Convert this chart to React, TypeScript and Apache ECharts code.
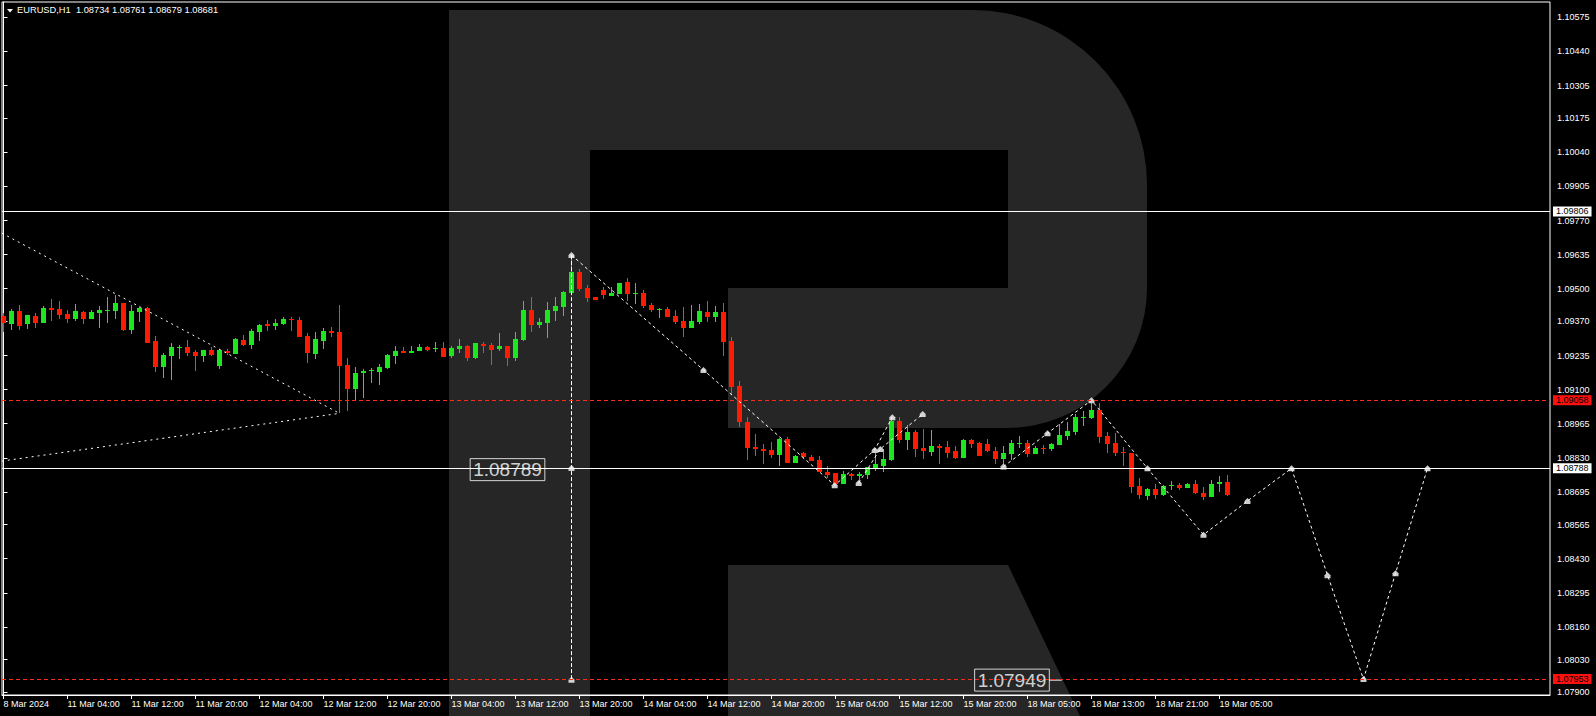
import React, { useEffect, useRef } from "react";
import * as echarts from "echarts";

const FONT = "'Liberation Sans', Arial, sans-serif";
const symbolName = "EURUSD,H1";

// [open, high, low, close] hourly candles
const ohlc: number[][] = [
  [1.09392, 1.09402, 1.09329, 1.09365],
  [1.09361, 1.09421, 1.09336, 1.09411],
  [1.09411, 1.09435, 1.09336, 1.09353],
  [1.09361, 1.09396, 1.09341, 1.09396],
  [1.09392, 1.09405, 1.09345, 1.09365],
  [1.09365, 1.0943, 1.09365, 1.09423],
  [1.09423, 1.09459, 1.09373, 1.09417],
  [1.09419, 1.0945, 1.0938, 1.09397],
  [1.09399, 1.09415, 1.09365, 1.0938],
  [1.09378, 1.09439, 1.09372, 1.09411],
  [1.09407, 1.09411, 1.09361, 1.09381],
  [1.0938, 1.09415, 1.0938, 1.09407],
  [1.09403, 1.0943, 1.09345, 1.09415],
  [1.09413, 1.09467, 1.09365, 1.09417],
  [1.09413, 1.09475, 1.09381, 1.09443],
  [1.09443, 1.09444, 1.09333, 1.09336],
  [1.09336, 1.09435, 1.09321, 1.09411],
  [1.09407, 1.09428, 1.09369, 1.09423],
  [1.09423, 1.09428, 1.09286, 1.09286],
  [1.09293, 1.09312, 1.09171, 1.09191],
  [1.09191, 1.09244, 1.09147, 1.09237],
  [1.09234, 1.09285, 1.09139, 1.09269],
  [1.09265, 1.09277, 1.09221, 1.09269],
  [1.09269, 1.09296, 1.09234, 1.09245],
  [1.09249, 1.09257, 1.09175, 1.09234],
  [1.09234, 1.09258, 1.09211, 1.09257],
  [1.09257, 1.0927, 1.09234, 1.09238],
  [1.09195, 1.09263, 1.09183, 1.09258],
  [1.09253, 1.09263, 1.09238, 1.09244],
  [1.09242, 1.09303, 1.09242, 1.09299],
  [1.09296, 1.09316, 1.09274, 1.09278],
  [1.09278, 1.0934, 1.09262, 1.09332],
  [1.09329, 1.09361, 1.09294, 1.09356],
  [1.09361, 1.09376, 1.09333, 1.09353],
  [1.09352, 1.09381, 1.09336, 1.09365],
  [1.09361, 1.09388, 1.09355, 1.0938],
  [1.0938, 1.09388, 1.09333, 1.09374],
  [1.09376, 1.09388, 1.0931, 1.0931],
  [1.09312, 1.09323, 1.09207, 1.09244],
  [1.09242, 1.09329, 1.09222, 1.093],
  [1.09294, 1.09343, 1.09263, 1.09332],
  [1.09333, 1.09348, 1.0931, 1.09326],
  [1.09328, 1.09435, 1.09006, 1.09195],
  [1.09197, 1.09225, 1.09016, 1.09101],
  [1.09104, 1.09189, 1.09059, 1.09166],
  [1.09164, 1.09181, 1.09068, 1.09175],
  [1.09172, 1.09185, 1.09125, 1.09176],
  [1.09169, 1.09201, 1.09119, 1.09189],
  [1.09185, 1.09241, 1.0918, 1.09237],
  [1.09233, 1.09273, 1.09201, 1.09253],
  [1.09253, 1.09267, 1.09244, 1.09246],
  [1.09246, 1.09273, 1.09244, 1.09253],
  [1.09254, 1.09281, 1.09254, 1.09269],
  [1.09269, 1.09273, 1.09254, 1.09259],
  [1.09261, 1.09287, 1.0925, 1.09265],
  [1.09265, 1.09289, 1.09228, 1.0923],
  [1.09234, 1.09271, 1.09226, 1.09265],
  [1.09261, 1.093, 1.09244, 1.09273],
  [1.09271, 1.09275, 1.09215, 1.09226],
  [1.09226, 1.09285, 1.09222, 1.09285],
  [1.09282, 1.09287, 1.09246, 1.09273],
  [1.09277, 1.09286, 1.09199, 1.09257],
  [1.09261, 1.09324, 1.09254, 1.09273],
  [1.09273, 1.09274, 1.09193, 1.09226],
  [1.09226, 1.09328, 1.09215, 1.093],
  [1.09296, 1.09451, 1.09294, 1.09415],
  [1.09415, 1.09466, 1.09329, 1.09357],
  [1.09357, 1.09382, 1.09345, 1.09368],
  [1.09365, 1.09446, 1.09306, 1.09415],
  [1.09411, 1.09467, 1.09372, 1.09433],
  [1.09428, 1.09491, 1.09393, 1.09487],
  [1.09481, 1.09625, 1.09478, 1.09566],
  [1.09566, 1.09578, 1.09492, 1.09497],
  [1.09501, 1.09514, 1.09448, 1.09463],
  [1.09467, 1.09468, 1.09455, 1.09456],
  [1.09494, 1.09508, 1.09459, 1.09476],
  [1.09472, 1.09505, 1.09472, 1.09484],
  [1.09479, 1.09522, 1.09479, 1.09522],
  [1.09526, 1.09541, 1.09451, 1.09479],
  [1.09479, 1.09522, 1.09438, 1.09484],
  [1.09483, 1.09493, 1.09425, 1.09432],
  [1.09435, 1.09442, 1.09406, 1.09415],
  [1.09417, 1.09422, 1.09385, 1.09421],
  [1.09419, 1.09427, 1.09386, 1.09389],
  [1.09391, 1.09415, 1.09361, 1.09368],
  [1.09372, 1.09427, 1.09308, 1.09345],
  [1.09345, 1.09435, 1.09345, 1.09372],
  [1.09368, 1.09439, 1.09362, 1.09411],
  [1.09407, 1.09451, 1.09369, 1.09388],
  [1.09388, 1.09431, 1.09368, 1.09407],
  [1.09407, 1.09444, 1.09234, 1.0929],
  [1.09292, 1.09308, 1.09078, 1.09112],
  [1.09114, 1.09134, 1.08953, 1.08973],
  [1.08972, 1.0899, 1.08821, 1.0887],
  [1.08871, 1.08924, 1.08837, 1.08865],
  [1.08865, 1.08884, 1.08805, 1.08858],
  [1.08861, 1.08891, 1.08829, 1.08841],
  [1.08841, 1.08908, 1.08797, 1.08904],
  [1.08904, 1.08911, 1.08809, 1.0881],
  [1.0881, 1.08841, 1.08809, 1.08837],
  [1.08847, 1.08851, 1.08825, 1.08834],
  [1.08835, 1.08842, 1.08818, 1.08818],
  [1.08821, 1.08837, 1.08773, 1.08775],
  [1.08773, 1.08797, 1.08748, 1.08763],
  [1.08768, 1.08768, 1.08726, 1.08728],
  [1.08726, 1.08777, 1.08726, 1.08765],
  [1.08765, 1.08771, 1.08742, 1.08759],
  [1.08759, 1.08773, 1.08735, 1.08764],
  [1.08761, 1.08792, 1.08746, 1.08792],
  [1.08788, 1.08847, 1.08779, 1.08805],
  [1.08797, 1.08865, 1.08773, 1.08825],
  [1.08821, 1.08982, 1.08818, 1.08976],
  [1.08976, 1.0899, 1.08887, 1.089],
  [1.089, 1.0896, 1.08862, 1.08933],
  [1.08933, 1.08942, 1.08834, 1.08866],
  [1.08868, 1.08944, 1.08825, 1.08858],
  [1.08853, 1.0894, 1.08837, 1.08876],
  [1.08875, 1.08884, 1.08805, 1.0887],
  [1.08872, 1.08896, 1.0883, 1.08849],
  [1.08857, 1.08876, 1.08826, 1.0883],
  [1.0883, 1.08903, 1.0883, 1.089],
  [1.08899, 1.08905, 1.08868, 1.08886],
  [1.08887, 1.08894, 1.08838, 1.08838],
  [1.08883, 1.08903, 1.08854, 1.08858],
  [1.08857, 1.08871, 1.08805, 1.08826],
  [1.08825, 1.08876, 1.08805, 1.08847],
  [1.08845, 1.089, 1.08821, 1.08888],
  [1.08884, 1.08916, 1.08867, 1.0889],
  [1.08888, 1.089, 1.08834, 1.08846],
  [1.08846, 1.08876, 1.08846, 1.08868],
  [1.08868, 1.0888, 1.08846, 1.08865],
  [1.08865, 1.0889, 1.08858, 1.08884],
  [1.0888, 1.08962, 1.0888, 1.0892],
  [1.08916, 1.08972, 1.089, 1.08936],
  [1.08932, 1.09002, 1.0892, 1.08991],
  [1.08989, 1.09015, 1.08956, 1.08993],
  [1.08989, 1.09046, 1.08982, 1.09019],
  [1.09019, 1.09048, 1.0889, 1.08913],
  [1.08916, 1.08931, 1.0885, 1.08886],
  [1.08888, 1.08927, 1.08838, 1.0885],
  [1.08853, 1.08871, 1.08797, 1.08847],
  [1.08847, 1.08847, 1.08689, 1.08715],
  [1.08718, 1.08748, 1.08665, 1.08682],
  [1.08678, 1.08709, 1.08662, 1.08705],
  [1.08706, 1.08728, 1.08666, 1.08684],
  [1.08682, 1.08721, 1.08678, 1.08718],
  [1.08717, 1.08738, 1.08702, 1.08723],
  [1.08722, 1.08732, 1.08702, 1.08711],
  [1.0871, 1.08731, 1.08709, 1.08726],
  [1.08728, 1.08742, 1.08685, 1.08689],
  [1.0869, 1.08713, 1.08662, 1.08676],
  [1.08676, 1.08742, 1.08676, 1.08728],
  [1.08727, 1.08758, 1.08695, 1.08734],
  [1.08734, 1.08761, 1.08679, 1.08681],
];

const timeTickIdx = [0, 8, 16, 24, 32, 40, 48, 56, 64, 72, 80, 88, 96, 104, 112, 120, 128, 136, 144, 152];
const timeLabels = [
  "8 Mar 2024", "11 Mar 04:00", "11 Mar 12:00", "11 Mar 20:00", "12 Mar 04:00",
  "12 Mar 12:00", "12 Mar 20:00", "13 Mar 04:00", "13 Mar 12:00", "13 Mar 20:00",
  "14 Mar 04:00", "14 Mar 12:00", "14 Mar 20:00", "15 Mar 04:00", "15 Mar 12:00",
  "15 Mar 20:00", "18 Mar 05:00", "18 Mar 13:00", "18 Mar 21:00", "19 Mar 05:00",
];

const priceTicks = [
  1.079, 1.0803, 1.0816, 1.08295, 1.0843, 1.08565, 1.08695, 1.0883, 1.08965, 1.091,
  1.09235, 1.0937, 1.095, 1.09635, 1.0977, 1.09905, 1.1004, 1.10175, 1.10305, 1.1044, 1.10575,
];

const levelPrices = [1.09806, 1.09058, 1.08788, 1.08681, 1.07953];
const levelKinds = ["white", "red", "white", "bid", "red"];

const wedgeUpper = [[-0.2, 1.0972], [42, 1.09006]];
const wedgeLower = [[-0.2, 1.08817], [42, 1.09006]];
const verticalLeg = [[71, 1.09633], [71, 1.0795]];
const zigA = [[71, 1.09633], [87.5, 1.09178], [103.9, 1.08721], [108.9, 1.08861], [111.1, 1.08991]];
const zigB = [[106.9, 1.0873], [109.6, 1.08865], [114.9, 1.09003]];
const zigC = [
  [125, 1.08795], [130.5, 1.08927], [136, 1.09058], [143, 1.08788], [150, 1.08525],
  [155.5, 1.08659], [161, 1.08788], [165.5, 1.08365], [170, 1.07953], [174, 1.08372], [178, 1.08788],
];
const extraMarkers = [[71, 1.08789], [71, 1.0795]];
const noteTexts = ["1.08789", "1.07949"];
const notePositions = [[63, 1.08783], [126.06, 1.07949]];
const noteTail = [[130.7, 1.07949], [132.3, 1.07949]];

const LOGO_D =
  "M449 10 L972 10 A175 175 0 0 1 1147 185 L1147 288 A140 140 0 0 1 1007 428 L728 428 L728 288 L1008 288 L1008 150 L590 150 L590 716 L449 716 Z " +
  "M728 565 L1008 565 L1080 716 L728 716 Z";
echarts.graphic.registerShape("rlogo", echarts.graphic.extendPath(LOGO_D, {}) as any);

const GREEN = "#1ee61e";
const RED_BODY = "#ff1a00";
const RED_WICK = "#ff3c1a";
const RED_LINE = "#ff2a1a";

function renderCandle(_params: any, api: any) {
  const i = api.value(0);
  const o = api.value(1);
  const c = api.value(2);
  const l = api.value(3);
  const h = api.value(4);
  const pO = api.coord([i, o]);
  const pC = api.coord([i, c]);
  const pL = api.coord([i, l]);
  const pH = api.coord([i, h]);
  const up = c >= o;
  const wx = Math.round(pO[0] - 0.5) + 0.5;
  const top = Math.round(Math.min(pO[1], pC[1]));
  const bot = Math.round(Math.max(pO[1], pC[1]));
  const bodyH = Math.max(bot - top, 1);
  return {
    type: "group",
    children: [
      {
        type: "line",
        shape: { x1: wx, y1: Math.round(pH[1]), x2: wx, y2: Math.max(Math.round(pL[1]), Math.round(pH[1]) + 1) },
        style: { stroke: up ? GREEN : RED_WICK, lineWidth: 1 },
      },
      {
        type: "rect",
        shape: { x: wx - 2.5, y: top, width: 5, height: bodyH },
        style: { fill: up ? GREEN : RED_BODY },
      },
    ],
  };
}

export default function App() {
  const ref = useRef<HTMLDivElement>(null);
  useEffect(() => {
    if (!ref.current) return;
    const chart = echarts.init(ref.current, undefined, { renderer: "svg" });
    const last = ohlc[ohlc.length - 1];
    const header = `${symbolName}  ${last.map((v) => v.toFixed(5)).join(" ")}`;
    const candleData = ohlc.map((d, i) => [i, d[0], d[3], d[2], d[1]]);
    const dashLine = (data: number[][], dash: number[]) => ({
      type: "line",
      data,
      symbol: "none",
      showSymbol: false,
      silent: true,
      lineStyle: { color: "#ffffff", width: 1, type: dash },
      z: 3,
    });
    const markerPoints = [...zigA, ...zigB, ...zigC, ...extraMarkers];

    const levelMarkLine = {
      silent: true,
      symbol: ["none", "none"],
      precision: 5,
      animation: false,
      data: levelPrices.map((p, k) => {
        const kind = levelKinds[k];
        const isRed = kind === "red";
        return {
          yAxis: p,
          lineStyle: {
            color: isRed ? RED_LINE : "#ffffff",
            width: 1,
            type: isRed ? [4, 3] : "solid",
            opacity: kind === "bid" ? 0 : 1,
          },
          label: {
            show: true,
            position: "end",
            distance: 3,
            formatter: p.toFixed(5),
            color: "#000000",
            backgroundColor: isRed ? "#ff1010" : "#ffffff",
            fontSize: 9,
            fontFamily: FONT,
            padding: [1, 3, 0, 3],
          },
        };
      }),
    };

    const option: any = {
      animation: false,
      backgroundColor: "#000000",
      grid: {
        left: 2,
        top: 2,
        width: 1548,
        height: 693,
        show: true,
        borderColor: "#ffffff",
        borderWidth: 1,
        backgroundColor: "transparent",
      },
      xAxis: {
        type: "value",
        min: -0.1875,
        max: 193.3125,
        position: "bottom",
        splitLine: { show: false },
        axisLine: { show: true, lineStyle: { color: "#ffffff", width: 1 } },
        axisTick: { show: true, inside: false, length: 4, customValues: timeTickIdx, lineStyle: { color: "#ffffff" } },
        axisLabel: {
          show: true,
          customValues: timeTickIdx,
          color: "#ffffff",
          fontSize: 9,
          fontFamily: FONT,
          align: "left",
          margin: 4,
          formatter: (v: number) => {
            const k = timeTickIdx.indexOf(Math.round(v));
            return k >= 0 ? timeLabels[k] : "";
          },
        },
      },
      yAxis: {
        type: "value",
        position: "right",
        min: 1.0789,
        max: 1.10636,
        scale: true,
        splitLine: { show: false },
        axisLine: { show: true, lineStyle: { color: "#ffffff", width: 1 } },
        axisTick: { show: true, inside: false, length: 4, customValues: priceTicks, lineStyle: { color: "#ffffff" } },
        axisLabel: {
          show: true,
          customValues: priceTicks,
          color: "#ffffff",
          fontSize: 9,
          fontFamily: FONT,
          margin: 7,
          formatter: (v: number) => v.toFixed(5),
        },
      },
      graphic: [
        { type: "rlogo", x: 0, y: 0, z: -50, silent: true, style: { fill: "#262626" } },
        { type: "polygon", z: 100, shape: { points: [[7, 9], [13, 9], [10, 12.5]] }, style: { fill: "#ffffff" } },
        {
          type: "text",
          z: 100,
          x: 17,
          y: 5,
          style: { text: header, fill: "#ffffff", fontSize: 9.3, fontFamily: FONT },
        },
      ],
      series: [
        {
          type: "custom",
          name: "EURUSD",
          data: candleData,
          encode: { x: 0, y: [1, 2, 3, 4] },
          renderItem: renderCandle,
          clip: true,
          silent: true,
          z: 2,
        },
        {
          type: "line",
          name: "levels",
          data: noteTail,
          symbol: "none",
          showSymbol: false,
          silent: true,
          lineStyle: { color: "#ffffff", width: 1 },
          z: 3,
          markLine: levelMarkLine,
        },
        dashLine(wedgeUpper, [2, 4]),
        dashLine(wedgeLower, [2, 4]),
        dashLine(verticalLeg, [4, 2]),
        dashLine(zigA, [3, 3]),
        dashLine(zigB, [3, 3]),
        dashLine(zigC, [3, 3]),
        {
          type: "scatter",
          data: markerPoints,
          symbol: "path://M3,0L6,3L6,6L0,6L0,3Z",
          symbolSize: [6, 6],
          itemStyle: { color: "#ffffff" },
          silent: true,
          z: 4,
        },
        {
          type: "scatter",
          data: notePositions.map((p, k) => ({ value: p, name: noteTexts[k] })),
          symbolSize: 1,
          itemStyle: { color: "rgba(0,0,0,0)" },
          silent: true,
          z: 5,
          label: {
            show: true,
            position: "inside",
            formatter: "{b}",
            fontSize: 19,
            fontFamily: FONT,
            color: "#ffffff",
            borderColor: "#ffffff",
            borderWidth: 1,
            padding: [2, 3, 1, 3],
          },
        },
      ],
    };
    chart.setOption(option);
    return () => chart.dispose();
  }, []);
  return (
    <div
      ref={ref}
      style={{ position: "fixed", left: 0, top: 0, width: 1596, height: 716, background: "#000000" }}
    />
  );
}
